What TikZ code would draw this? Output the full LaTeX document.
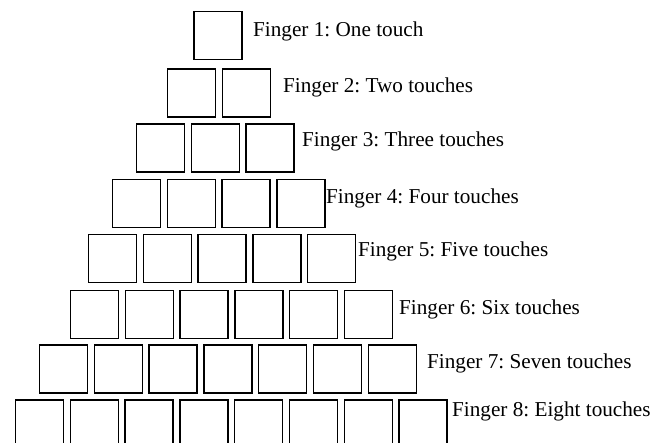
\documentclass[tikz,border=0pt]{standalone}
\usepackage{fontspec}
\setmainfont{Liberation Serif}
\frenchspacing

\begin{document}
\begin{tikzpicture}[
    x=1pt, y=-1pt,
    cell/.style={rectangle, draw=black, line width=1.4pt, fill=white,
                 minimum width=48pt, minimum height=48pt, inner sep=0pt},
    tag/.style={anchor=base west, inner sep=0pt, text=black,
                font=\fontsize{21.2}{24}\selectfont},
]
    \useasboundingbox (0,0) rectangle (662,443);

    % Rows of touch cells: row / first centre x / centre y
    \foreach \r/\x/\y in {1/218/35.5, 2/191.5/93, 3/160.5/148, 4/136.5/203.5,
                          5/112.5/258.5, 6/94.5/314.5, 7/63.5/369, 8/39.5/424}{
        \foreach \c in {1,...,\r}
            \node[cell] (r\r-\c) at ({\x+54.8*(\c-1)},\y) {};
    }

    % Labels
    \node[tag] (finger1) at (253,37) {Finger 1: One touch};
    \node[tag] (finger2) at (283,93) {Finger 2: Two touches};
    \node[tag] (finger3) at (302,147) {Finger 3: Three touches};
    \node[tag] (finger4) at (326,204) {Finger 4: Four touches};
    \node[tag] (finger5) at (358,257) {Finger 5: Five touches};
    \node[tag] (finger6) at (399,315) {Finger 6: Six touches};
    \node[tag] (finger7) at (427,369) {Finger 7: Seven touches};
    \node[tag] (finger8) at (452,417) {Finger 8: Eight touches};
\end{tikzpicture}
\end{document}
